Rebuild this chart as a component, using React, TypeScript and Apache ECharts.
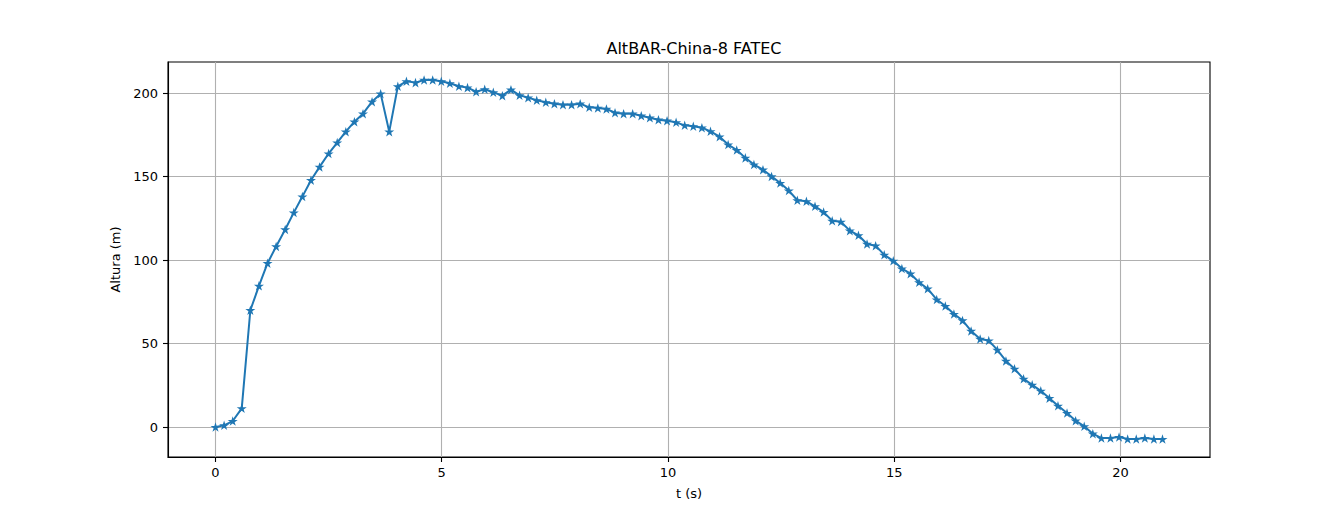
import React, { useEffect, useRef } from "react";
import * as echarts from "echarts";

const times = [
  0, 0.19, 0.38, 0.58, 0.77, 0.96, 1.15, 1.34, 1.54, 1.73,
  1.92, 2.11, 2.3, 2.5, 2.69, 2.88, 3.07, 3.26, 3.46, 3.65,
  3.84, 4.03, 4.22, 4.42, 4.61, 4.8, 4.99, 5.18, 5.38, 5.57,
  5.76, 5.95, 6.14, 6.34, 6.53, 6.72, 6.91, 7.1, 7.3, 7.49,
  7.68, 7.87, 8.06, 8.26, 8.45, 8.64, 8.83, 9.02, 9.22, 9.41,
  9.6, 9.79, 9.98, 10.18, 10.37, 10.56, 10.75, 10.94, 11.14, 11.33,
  11.52, 11.71, 11.9, 12.1, 12.29, 12.48, 12.67, 12.86, 13.06, 13.25,
  13.44, 13.63, 13.82, 14.02, 14.21, 14.4, 14.59, 14.78, 14.98, 15.17,
  15.36, 15.55, 15.74, 15.94, 16.13, 16.32, 16.51, 16.7, 16.9, 17.09,
  17.28, 17.47, 17.66, 17.86, 18.05, 18.24, 18.43, 18.62, 18.82, 19.01,
  19.2, 19.39, 19.58, 19.78, 19.97, 20.16, 20.35, 20.54, 20.74, 20.93,
];

const altura = [
  0, 1, 3.6, 11.2, 70, 84.6, 98.2, 108.2, 118.4, 128.5,
  138.1, 147.9, 155.9, 163.9, 170.5, 177, 183, 187.8, 195, 199.8,
  177, 204.2, 207.2, 206.4, 208, 208, 207.2, 206, 204.2, 203.4,
  201, 202.4, 200.6, 198.6, 202.2, 198.8, 197.4, 195.8, 194.6, 193.8,
  193.2, 193.2, 193.8, 191.6, 191.2, 190.6, 188.4, 187.8, 187.8, 186.6,
  185.4, 184.2, 183.6, 182.6, 180.8, 180.2, 179.4, 177.2, 174, 169.3,
  166, 161.3, 157.3, 154.2, 150.2, 146.2, 141.7, 135.9, 135.3, 132.3,
  128.8, 123.6, 123, 117.7, 114.9, 109.7, 108.7, 103.2, 99.6, 95,
  91.9, 86.7, 82.9, 76.4, 72.5, 67.7, 63.9, 57.6, 52.8, 51.8,
  46.2, 39.6, 34.9, 28.9, 25.3, 21.7, 17.3, 12.7, 8.4, 3.8,
  0.4, -4, -6.6, -6.6, -6, -7.2, -7.2, -6.6, -7.2, -7.2,
];

const xTicks = [0, 5, 10, 15, 20];
const yTicks = [0, 50, 100, 150, 200];

const titleText = "AltBAR-China-8 FATEC";
const xName = "t (s)";
const yName = "Altura (m)";

const STAR =
  "path://M0,-1L0.224,-0.309L0.951,-0.309L0.363,0.118L0.588,0.809L0,0.382L-0.588,0.809L-0.363,0.118L-0.951,-0.309L-0.224,-0.309Z";

const FONT = "DejaVu Sans";

export default function App() {
  const ref = useRef<HTMLDivElement>(null);

  useEffect(() => {
    if (!ref.current) return;
    const chart = echarts.init(ref.current, null, { renderer: "svg" });
    const axisCommon = {
      axisLine: { show: true, onZero: false, lineStyle: { color: "#000", width: 1.1 } },
      axisTick: { show: true, inside: false, length: 5, lineStyle: { color: "#000", width: 1.1 } },
      splitLine: { show: true, lineStyle: { color: "#b0b0b0", width: 1.1 } },
    };
    chart.setOption({
      animation: false,
      backgroundColor: "#fff",
      title: {
        text: titleText,
        left: 689,
        top: 35,
        textAlign: "center",
        textStyle: { fontFamily: FONT, fontSize: 16, fontWeight: "normal", color: "#000" },
      },
      grid: { left: 168, right: 134, top: 62, bottom: 57, show: true, borderColor: "#000", borderWidth: 1.1 },
      xAxis: {
        type: "value",
        min: -1.05,
        max: 21.98,
        ...axisCommon,
        axisTick: { ...axisCommon.axisTick, customValues: xTicks },
        axisLabel: {
          customValues: xTicks,
          margin: 9,
          color: "#000",
          fontFamily: FONT,
          fontSize: 13,
          formatter: (v: number) => String(v),
        },
        name: xName,
        nameLocation: "middle",
        nameGap: 30,
        nameTextStyle: { fontFamily: FONT, fontSize: 13, color: "#000" },
      },
      yAxis: {
        type: "value",
        min: -17.96,
        max: 218.76,
        ...axisCommon,
        axisTick: { ...axisCommon.axisTick, customValues: yTicks },
        axisLabel: {
          customValues: yTicks,
          margin: 10,
          color: "#000",
          fontFamily: FONT,
          fontSize: 13,
          formatter: (v: number) => String(v),
        },
        name: yName,
        nameLocation: "middle",
        nameGap: 42,
        nameRotate: 90,
        nameTextStyle: { fontFamily: FONT, fontSize: 13, color: "#000" },
      },
      series: [
        {
          type: "line",
          data: times.map((t, i) => [t, altura[i]]),
          symbol: STAR,
          symbolKeepAspect: true,
          symbolSize: 10,
          showAllSymbol: true,
          lineStyle: { color: "#1f77b4", width: 2 },
          itemStyle: { color: "#1f77b4", borderWidth: 0 },
        },
      ],
    });
    return () => chart.dispose();
  }, []);

  return (
    <div
      ref={ref}
      style={{ position: "absolute", left: 0, top: 0, width: 1344, height: 514, background: "#fff" }}
    />
  );
}
